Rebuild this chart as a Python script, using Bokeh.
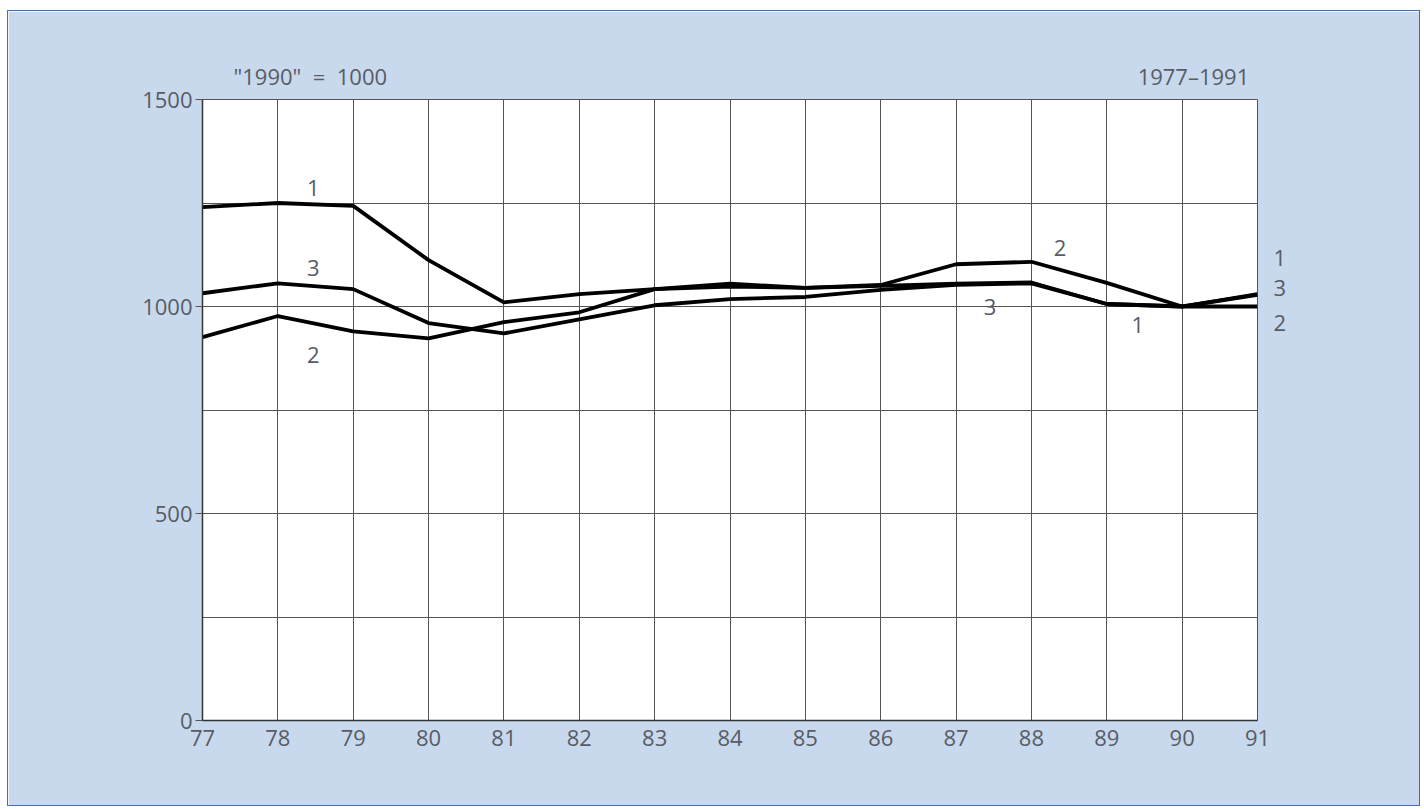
from bokeh.plotting import figure
from bokeh.models import FixedTicker, Label, LinearAxis
from bokeh.embed import file_html
from bokeh.resources import INLINE

years = [77, 78, 79, 80, 81, 82, 83, 84, 85, 86, 87, 88, 89, 90, 91]
series_1 = [1240, 1250, 1243, 1112, 1010, 1030, 1042, 1055, 1045, 1050, 1055, 1058, 1006, 1000, 1030]
series_2 = [926, 977, 940, 923, 962, 986, 1042, 1048, 1045, 1052, 1102, 1108, 1057, 1000, 1000]
series_3 = [1032, 1056, 1042, 960, 935, 969, 1003, 1018, 1023, 1040, 1052, 1056, 1006, 1000, 1028]

y_ticks = [0, 500, 1000, 1500]
y_grid = [250, 500, 750, 1000, 1250]

header_pos = [78.43, 90.15]
header_text = ['"1990"\u00a0\u00a0=\u00a0\u00a01000', "1977\u20131991"]
end_pos = [1117, 1044, 960]
end_text = ["1", "3", "2"]

FONT = "Open Sans"
TXT = "#575c65"
BG = "#c9d9ed"
FS = "22px"

p = figure(width=1411, height=794, x_range=(77, 91), y_range=(0, 1500),
           output_backend="svg", toolbar_location=None,
           min_border_left=194, min_border_right=162,
           min_border_top=88, min_border_bottom=85)
p.margin = (11, 0, 0, 8)
p.styles = {"outline": "1.5px solid #3e6cc2"}
p.border_fill_color = BG
p.background_fill_color = "white"
p.outline_line_color = "#555555"
p.outline_line_width = 1

p.xaxis.ticker = FixedTicker(ticks=years)
p.yaxis.ticker = FixedTicker(ticks=y_ticks)
p.ygrid.ticker = FixedTicker(ticks=y_grid)
p.xgrid.ticker = FixedTicker(ticks=years)
for g in (p.xgrid, p.ygrid):
    g.grid_line_color = "#555555"
    g.grid_line_width = 1
    g.grid_line_alpha = 1.0

for ax in (p.xaxis, p.yaxis):
    ax.axis_line_color = "#333333"
    ax.axis_line_width = 1.5
    ax.major_label_text_font = FONT
    ax.major_label_text_font_size = FS
    ax.major_label_text_color = TXT
    ax.minor_tick_line_color = None
    ax.major_tick_line_color = "#555555"
p.xaxis.major_tick_line_color = None
p.xaxis.major_label_standoff = 3
p.yaxis.major_tick_out = 7
p.yaxis.major_tick_in = 0
p.yaxis.major_label_standoff = 3

# header texts as an axis above the frame
top_ax = LinearAxis(ticker=FixedTicker(ticks=header_pos),
                    major_label_overrides=dict(zip(header_pos, header_text)))
# right-hand series labels as an axis on the right
right_ax = LinearAxis(ticker=FixedTicker(ticks=end_pos),
                      major_label_overrides=dict(zip(end_pos, end_text)))
for ax in (top_ax, right_ax):
    ax.axis_line_color = None
    ax.major_tick_line_color = None
    ax.minor_tick_line_color = None
    ax.major_label_text_font = FONT
    ax.major_label_text_font_size = FS
    ax.major_label_text_color = TXT
top_ax.major_label_standoff = 3
right_ax.major_label_standoff = 10
p.add_layout(top_ax, "above")
p.add_layout(right_ax, "right")

for ys in (series_1, series_2, series_3):
    p.line(years, ys, line_color="black", line_width=3.8, line_join="round")

def lab(x, y, t):
    p.add_layout(Label(x=x, y=y, text=t, text_font=FONT, text_font_size=FS,
                       text_color=TXT, text_align="center", text_baseline="middle"))

lab(78.47, 1287, "1")
lab(78.47, 1093, "3")
lab(78.47, 884, "2")
lab(88.38, 1141, "2")
lab(87.45, 998, "3")
lab(89.41, 955, "1")

open("out.html", "w").write(file_html(p, INLINE))
